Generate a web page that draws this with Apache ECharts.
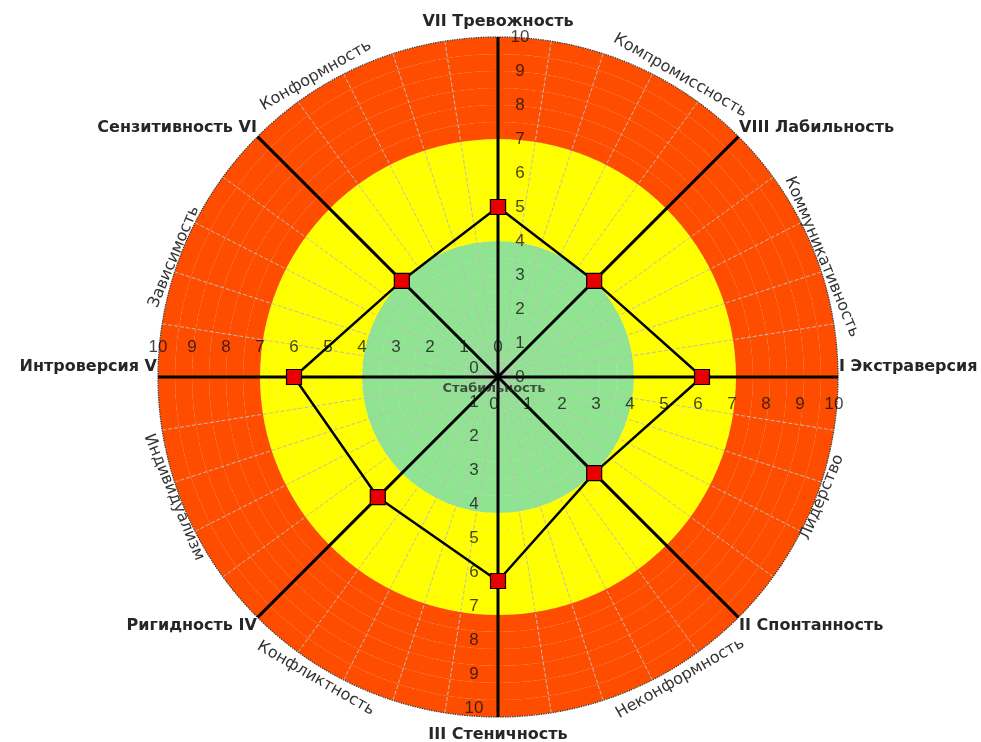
<!DOCTYPE html>
<html><head><meta charset="utf-8">
<script src="https://cdn.jsdelivr.net/npm/echarts@6/dist/echarts.min.js"></script>
<style>html,body{margin:0;padding:0;background:#fff}#c{width:981px;height:742px}</style>
</head><body><div id="c"></div>
<script>
// ---- data ----
const axisAngles = [0, 45, 90, 135, 180, 225, 270, 315];
const axisNames = ['VII Тревожность', 'VIII Лабильность', 'I Экстраверсия', 'II Спонтанность',
  'III Стеничность', 'Ригидность IV', 'Интроверсия V', 'Сензитивность VI'];
const scores = [5, 4, 6, 4, 6, 5, 6, 4];
const traitNames = ['Компромиссность', 'Коммуникативность', 'Лидерство', 'Неконформность',
  'Конфликтность', 'Индивидуализм', 'Зависимость', 'Конформность'];
const traitAngles = [30, 67.5, 112.5, 150, 210, 247.5, 292.5, 330];
const tickValues = [0, 1, 2, 3, 4, 5, 6, 7, 8, 9, 10];
const bandLimits = [4, 7, 10];
const bandColors = ['#8fe391', '#ffff00', '#ff4d00'];
const centerLabel = 'Стабильность';

// ---- build ----
const chart = echarts.init(document.getElementById('c'));
const step = 0.5;
const ringColors = [];
for (let v = 0; v < 10; v += step) {
  const mid = v + step / 2;
  let k = bandLimits.findIndex(l => mid < l);
  ringColors.push(bandColors[k]);
}
const tickColor = 'rgba(15,15,15,0.78)';
const tickFont = 'Liberation Sans';
function tickSeries(angle, offset) {
  return {
    type: 'scatter', coordinateSystem: 'polar', symbolSize: 0, silent: true, z: 6,
    itemStyle: { opacity: 1 },
    data: tickValues.map(v => [v, angle]),
    label: { show: true, position: 'inside', offset: offset, formatter: p => String(p.value[0]),
      color: tickColor, fontSize: 17, fontFamily: tickFont }
  };
}
function rot(a) {
  let r = (a > 90 && a < 270) ? 180 - a : -a;
  if (r <= -180) r += 360;
  return r;
}
const traitGap = 14;
const gridColor = '#bdbdbd';
const mainFont = { fontSize: 16, fontWeight: 'bold', fontFamily: 'DejaVu Sans', color: '#262626' };
const series = [];
axisAngles.forEach(a => {
  series.push({ type: 'line', coordinateSystem: 'polar', symbol: 'none', silent: true, z: 3,
    lineStyle: { color: '#000', width: 3 }, data: [[0, a], [10, a]] });
});
series.push({
  type: 'line', coordinateSystem: 'polar', z: 5, symbol: 'rect', symbolSize: 15,
  lineStyle: { color: '#000', width: 2.5 },
  itemStyle: { color: '#e80000', borderColor: '#000', borderWidth: 1.2 },
  data: scores.map((v, i) => [v, axisAngles[i]]).concat([[scores[0], 360]])
});
series.push(tickSeries(0, [22, 0]));
series.push(tickSeries(90, [-4, 27]));
series.push(tickSeries(180, [-24, -9]));
series.push(tickSeries(270, [0, -30]));
series.push({
  type: 'scatter', coordinateSystem: 'polar', symbolSize: 0, silent: true, z: 6,
  itemStyle: { opacity: 1 },
  data: traitNames.map((n, i) => {
    const a = traitAngles[i] * Math.PI / 180;
    return { value: [10, traitAngles[i]], name: n,
      label: { rotate: rot(traitAngles[i]), offset: [Math.sin(a) * traitGap, -Math.cos(a) * traitGap] } };
  }),
  label: { show: true, position: 'inside', formatter: p => p.name, color: '#333', fontSize: 16, fontFamily: 'DejaVu Sans' }
});
series.push({
  type: 'scatter', coordinateSystem: 'polar', symbolSize: 0, silent: true, z: 6,
  itemStyle: { opacity: 1 },
  data: [{ value: [0, 0], name: centerLabel }],
  label: { show: true, position: 'inside', offset: [-4, 12], formatter: p => p.name,
    color: 'rgba(30,30,30,0.75)', fontSize: 13, fontWeight: 'bold', fontFamily: 'DejaVu Sans' }
});

chart.setOption({
  animation: false,
  backgroundColor: '#fff',
  polar: { center: [498, 377], radius: 340 },
  angleAxis: {
    type: 'value', min: 0, max: 360, interval: 9, startAngle: 90, clockwise: true,
    axisLine: { show: true, lineStyle: { color: '#333', width: 1.2, type: 'dotted' } },
    axisTick: { show: false },
    splitLine: { show: true, lineStyle: { color: gridColor, width: 1, type: 'dashed' } },
    axisLabel: {
      show: true, margin: 1,
      formatter: v => {
        if (v % 45 !== 0 || v >= 360) return '';
        const i = v / 45;
        const k = (i === 2 || i === 6) ? 's' : (i === 0 ? 't' : (i === 4 ? 'b' : 'n'));
        return '{' + k + '|' + axisNames[i] + '}';
      },
      rich: {
        n: mainFont,
        s: Object.assign({ padding: [0, 0, 20, 0] }, mainFont),
        t: Object.assign({ padding: [0, 0, 6, 0] }, mainFont),
        b: Object.assign({ padding: [9, 0, 0, 0] }, mainFont)
      }
    }
  },
  radiusAxis: {
    type: 'value', min: 0, max: 10, interval: step,
    axisLine: { show: false }, axisTick: { show: false }, axisLabel: { show: false },
    splitLine: { show: true, lineStyle: { color: gridColor, width: 1, type: 'dashed' } },
    splitArea: { show: true, areaStyle: { color: ringColors } }
  },
  series: series
});
</script>
</body></html>
